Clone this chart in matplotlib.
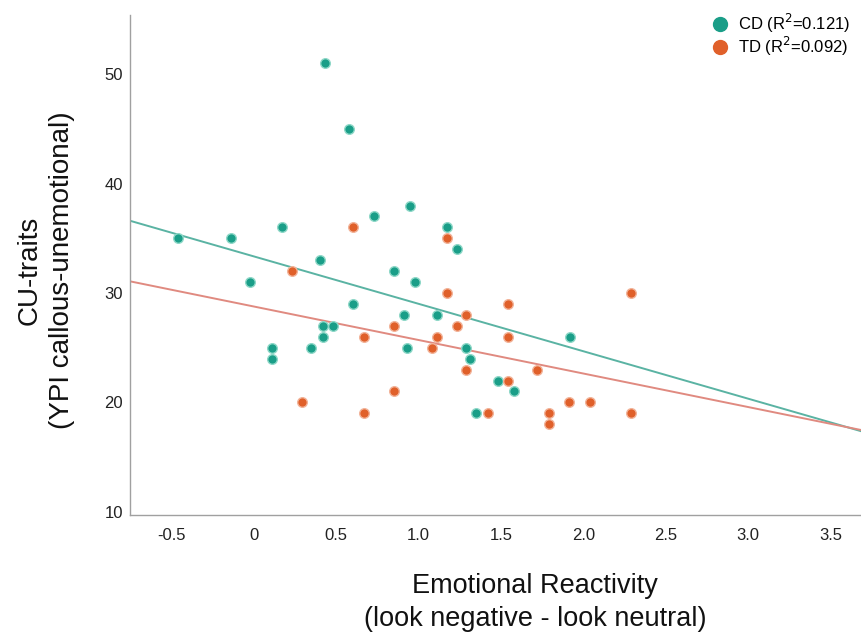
import numpy as np
import matplotlib
matplotlib.use('Agg')
import matplotlib.pyplot as plt
from matplotlib.lines import Line2D

plt.rcParams['font.family'] = ['Liberation Sans', 'DejaVu Sans']

# CD group: emotional reactivity vs CU-traits
cd_x = [-0.46, -0.14, -0.02, 0.17, 0.40, 0.43, 0.58, 0.73, 0.95, 1.17, 1.23,
        0.85, 0.98, 0.60, 0.42, 0.48, 0.42, 0.35, 0.11, 0.11, 0.91, 1.11,
        0.93, 1.29, 1.31, 1.48, 1.58, 1.35, 1.92]
cd_y = [35, 35, 31, 36, 33, 51, 45, 37, 38, 36, 34,
        32, 31, 29, 27, 27, 26, 25, 25, 24, 28, 28,
        25, 25, 24, 22, 21, 19, 26]

# TD group
td_x = [0.23, 0.29, 0.60, 0.67, 0.67, 0.85, 0.85, 1.17, 1.17, 1.11, 1.08,
        1.23, 1.29, 1.29, 1.42, 1.54, 1.54, 1.54, 1.72, 1.91, 2.04, 1.79,
        1.79, 2.29, 2.29]
td_y = [32, 20, 36, 26, 19, 27, 21, 35, 30, 26, 25,
        27, 28, 23, 19, 29, 26, 22, 23, 20, 20, 19,
        18, 30, 19]

groups = ['CD', 'TD']
r2_labels = ['0.121', '0.092']
x_ticks = [-0.5, 0, 0.5, 1.0, 1.5, 2.0, 2.5, 3.0, 3.5]
x_tick_labels = ['-0.5', '0', '0.5', '1.0', '1.5', '2.0', '2.5', '3.0', '3.5']
y_ticks = [10, 20, 30, 40, 50]

dot_colors = ['#1a9e88', '#e0602a']
edge_colors = ['#8fd8c8', '#f2b49a']
line_colors = ['#5ab3a3', '#e08a80']

fig = plt.figure(figsize=(8.62, 6.32), dpi=100)
ax = fig.add_axes([0.151, 0.185, 0.849, 0.791])

xlim = (-0.75, 3.69)
xs = np.array(xlim)
for gx, gy, c, ec, lc in zip([cd_x, td_x], [cd_y, td_y], dot_colors, edge_colors, line_colors):
    # least squares fit line across the whole x range
    slope, icpt = np.polyfit(gx, gy, 1)
    ax.plot(xs, slope * xs + icpt, color=lc, lw=1.4, zorder=2)
    ax.scatter(gx, gy, s=48, color=c, edgecolors=ec, linewidths=1.0, zorder=3)

ax.set_xlim(*xlim)
ax.set_ylim(9.7, 55.4)
ax.set_xticks(x_ticks)
ax.set_xticklabels(x_tick_labels)
ax.set_yticks(y_ticks)
ax.tick_params(length=0, labelsize=12, colors='#222222')
ax.tick_params(axis='x', pad=9)
ax.tick_params(axis='y', pad=5)

for s in ['top', 'right']:
    ax.spines[s].set_visible(False)
for s in ['left', 'bottom']:
    ax.spines[s].set_color('#a0a0a0')
    ax.spines[s].set_linewidth(1.0)

ax.set_xlabel('Emotional Reactivity\n(look negative - look neutral)', fontsize=19.5,
              color='#111111', linespacing=1.35)
ax.xaxis.set_label_coords(0.553, -0.115, transform=ax.transAxes)
ax.xaxis.label.set_va('top')
ax.set_ylabel('CU-traits\n(YPI callous-unemotional)', fontsize=20,
              color='#111111', linespacing=1.35)
ax.yaxis.set_label_coords(-0.075, 0.49, transform=ax.transAxes)

handles = [Line2D([], [], ls='none', marker='o', markersize=10, color=c) for c in dot_colors]
labels = [f'{g} (R$^2$=' + r + ')' for g, r in zip(groups, r2_labels)]
fig.legend(handles, labels, loc='upper right', bbox_to_anchor=(1.0, 1.0),
           frameon=False, fontsize=12, handletextpad=0.1, labelspacing=0.0,
           borderaxespad=0.3)

plt.savefig('out.png', dpi=100)
